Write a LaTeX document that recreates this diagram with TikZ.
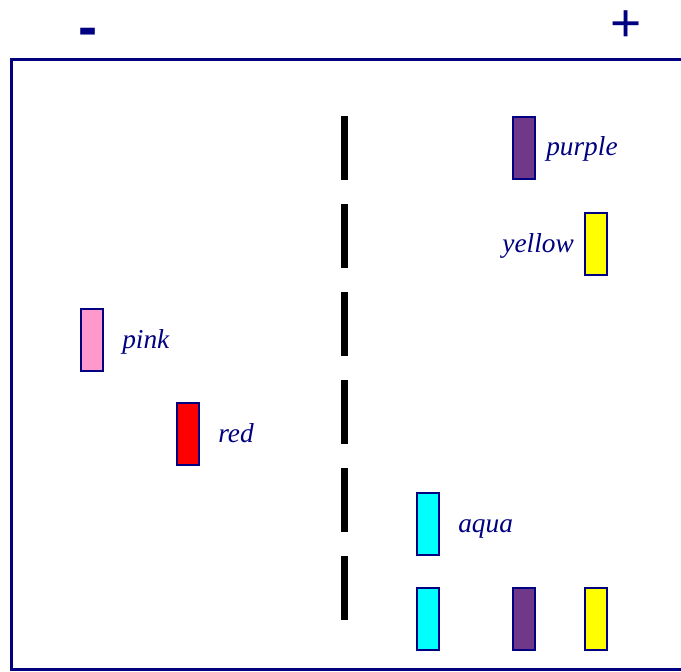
\documentclass[tikz,border=0pt]{standalone}
\usepackage{fontspec}
\setmainfont{Liberation Serif}
\newfontfamily\signfont{Liberation Sans}
\usetikzlibrary{positioning}
\definecolor{gnavy}{HTML}{000080}
\definecolor{gpink}{HTML}{FF99CC}
\definecolor{gred}{HTML}{FF0000}
\definecolor{gaqua}{HTML}{00FFFF}
\definecolor{gpurple}{HTML}{703888}
\definecolor{gyellow}{HTML}{FFFF00}
\tikzset{
  band/.style={draw=gnavy, line width=1.5pt, minimum width=16.5pt, minimum height=46.5pt, inner sep=0pt},
  blab/.style={gnavy, inner sep=0pt, font=\fontsize{20.5}{24}\selectfont\itshape, text height=1ex, text depth=0pt, yshift=-4pt},
  sign/.style={gnavy, inner sep=0pt, font=\fontsize{40}{44}\selectfont\signfont},
  frame/.style={gnavy, line width=2.25pt},
  well/.style={black, line width=5.25pt, dash pattern=on 48pt off 18pt},
}

\begin{document}
\begin{tikzpicture}[x=0.75pt,y=-0.75pt, node distance=13.5pt]
\useasboundingbox (0,0) rectangle (681,671);

% ---- electrodes ------------------------------------------------------------
\node[sign, font=\fontsize{43}{48}\selectfont\signfont] (neg) at (88.5,37) {\bfseries -};
\node[sign] (pos) at (626.5,26) {+};
% ---- gel frame -------------------------------------------------------------
\draw[frame] (690,59) -- (11,59) -- (11,669) -- (690,669);
% ---- wells -----------------------------------------------------------------
\coordinate (wtop) at (344,116);
\coordinate (wbot) at (344,620);
\draw[well] (wtop) -- (wbot);
% ---- bands -----------------------------------------------------------------
\node[band, fill=gpurple] (purpleA) at (524,147.5) {};
\node[band, fill=gyellow] (yellowA) at (596,244) {};
\node[band, fill=gpink]   (pinkA)   at (92,340) {};
\node[band, fill=gred]    (redA)    at (188,434) {};
\node[band, fill=gaqua]   (aquaA)   at (428,524) {};
\node[band, fill=gaqua]   (aquaB)   at (428,619) {};
\node[band, fill=gpurple] (purpleB) at (524,619) {};
\node[band, fill=gyellow] (yellowB) at (596,619) {};
% ---- labels ----------------------------------------------------------------
\node[blab, right=7.5pt of purpleA] (purpleL) {purple};
\node[blab, left=7.5pt of yellowA]  (yellowL) {yellow};
\node[blab, right=of pinkA]         (pinkL)   {pink};
\node[blab, right=of redA]          (redL)    {red};
\node[blab, right=of aquaA]         (aquaL)   {aqua};

\end{tikzpicture}
\end{document}
